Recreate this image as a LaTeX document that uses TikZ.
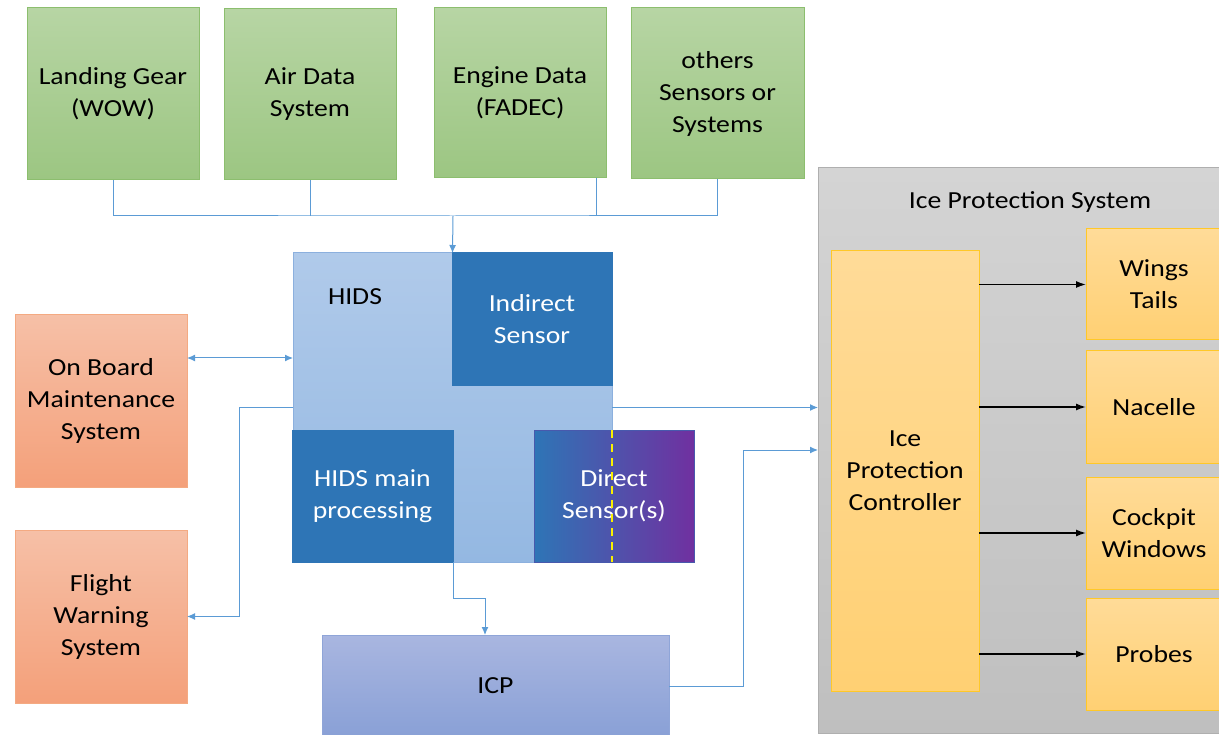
\documentclass[tikz,border=0pt]{standalone}
\usepackage{fontspec}
\setmainfont{Carlito}[FakeStretch=1.13]
\usepackage{tikz}
\usetikzlibrary{
  arrows.meta,
  positioning,
  calc
}
\definecolor{grntop}{RGB}{183,213,164}
\definecolor{grnbot}{RGB}{156,198,130}
\definecolor{grnline}{RGB}{140,190,110}
\definecolor{orgtop}{RGB}{246,192,167}
\definecolor{orgbot}{RGB}{244,160,122}
\definecolor{orgline}{RGB}{244,170,130}
\definecolor{hidstop}{RGB}{176,202,234}
\definecolor{hidsbot}{RGB}{148,184,226}
\definecolor{hidsline}{RGB}{140,176,222}
\definecolor{navyblue}{RGB}{46,117,182}
\definecolor{violet}{RGB}{112,48,160}
\definecolor{icptop}{RGB}{169,182,224}
\definecolor{icpbot}{RGB}{137,160,214}
\definecolor{icpline}{RGB}{143,165,216}
\definecolor{graytop}{RGB}{212,212,212}
\definecolor{graybot}{RGB}{191,191,191}
\definecolor{grayline}{RGB}{175,175,175}
\definecolor{ylwtop}{RGB}{255,219,152}
\definecolor{ylwbot}{RGB}{255,208,115}
\definecolor{ylwline}{RGB}{255,200,40}
\definecolor{linkblue}{RGB}{91,155,213}
\definecolor{dashyellow}{RGB}{250,240,0}

\begin{document}
\begin{tikzpicture}[
  x=1pt, y=-1pt,
  font=\fontsize{24.5}{32}\selectfont,
  box/.style={inner sep=0pt, outer sep=0pt, align=center, line width=1pt},
  srcbox/.style={box, top color=grntop, bottom color=grnbot, draw=grnline},
  extbox/.style={box, top color=orgtop, bottom color=orgbot, draw=orgline},
  unitbox/.style={box, fill=navyblue, draw=navyblue, text=white},
  ipsbox/.style={box, top color=ylwtop, bottom color=ylwbot, draw=ylwline},
  conn/.style={linkblue, line width=1pt},
  blk/.style={black, line width=1.4pt, -{Latex[length=10pt,width=7pt]}},
  >={Latex[length=8pt,width=7pt]}
]
\useasboundingbox (0,0) rectangle (1219,735);

% data sources
\node[srcbox, minimum width=172, minimum height=172] at (113,94) (gear) {Landing Gear\\(WOW)};
\node[srcbox, minimum width=172, minimum height=171] at (310,94.5) (airdata) {Air Data\\System};
\node[srcbox, minimum width=172, minimum height=170] at (520,93) (engine) {Engine Data\\(FADEC)};
\node[srcbox, minimum width=173, minimum height=171] at (717.5,93.5) (others) {others\\Sensors or\\Systems};

% aircraft systems on the left
\node[extbox, minimum width=172, minimum height=172] at (101,401) (obms) {On Board\\Maintenance\\System};
\node[extbox, minimum width=172, minimum height=173] at (101,616.5) (fws) {Flight\\Warning\\System};

% HIDS
\node[box, top color=hidstop, bottom color=hidsbot, draw=hidsline, minimum width=319, minimum height=309] at (452.5,407.5) (hids) {};
\node at (355,297) (hidslabel) {HIDS};
\node[unitbox, minimum width=160, minimum height=133] at (532,319.5) (indirect) {Indirect\\Sensor};
\node[unitbox, minimum width=161, minimum height=132] at (372.5,496) (mainproc) {HIDS main\\processing};
\node[box, left color=navyblue, right color=violet, draw=navyblue!60!violet, text=white,
  minimum width=160, minimum height=132] at (614,496) (direct) {Direct\\Sensor(s)};
\draw[dashyellow, line width=2pt, dash pattern=on 8pt off 6pt]
  (hids.east |- direct.north) -- (hids.east |- direct.south);

\node[box, top color=icptop, bottom color=icpbot, draw=icpline, minimum width=347, minimum height=102] at (495.5,686) (icp) {ICP};

% ice protection system
\node[box, top color=graytop, bottom color=graybot, draw=grayline, minimum width=404, minimum height=565] at (1020,450.5) (ips) {};
\node at (1030,202) (ipslabel) {Ice Protection System};
\node[ipsbox, minimum width=148, minimum height=440] at (905,471) (ipc) {Ice\\Protection\\Controller};
\node[ipsbox, minimum width=136, minimum height=111] at (1154,284.5) (wings) {Wings\\Tails};
\node[ipsbox, minimum width=136, minimum height=112] at (1154,407) (nacelle) {Nacelle};
\node[ipsbox, minimum width=136, minimum height=112] at (1154,533) (cockpit) {Cockpit\\Windows};
\node[ipsbox, minimum width=136, minimum height=112] at (1154,654) (probes) {Probes};

% links
\coordinate (bus) at (453,216);
\coordinate (obmslink) at (240,358);
\coordinate (warnlink) at (239,408);
\coordinate (icpdrop) at (485,598);
\coordinate (icplink) at (743,450);

\draw[conn] (gear.south) |- (bus) -| (others.south);
\draw[conn] (airdata.south) -- (airdata.south |- bus);
\draw[conn] ([xshift=76pt]engine.south) -- ([xshift=76pt]engine.south |- bus);
\draw[conn, ->] (bus) -- (hids.north);
\draw[conn, <->] (obms.east |- obmslink) -- (hids.west |- obmslink);
\draw[conn, ->] (hids.west |- warnlink) -- (warnlink) |- (fws.east);
\draw[conn, ->] (hids.east) -- (hids.east -| ips.west);
\draw[conn, ->] (mainproc.south east) |- (icpdrop) -- (icpdrop |- icp.north);
\draw[conn, ->] (icp.east) -| (icplink) -- (icplink -| ips.west);

\foreach \dst in {wings,nacelle,cockpit,probes}
  \draw[blk] (ipc.east |- \dst) -- (\dst.west);
\end{tikzpicture}
\end{document}
